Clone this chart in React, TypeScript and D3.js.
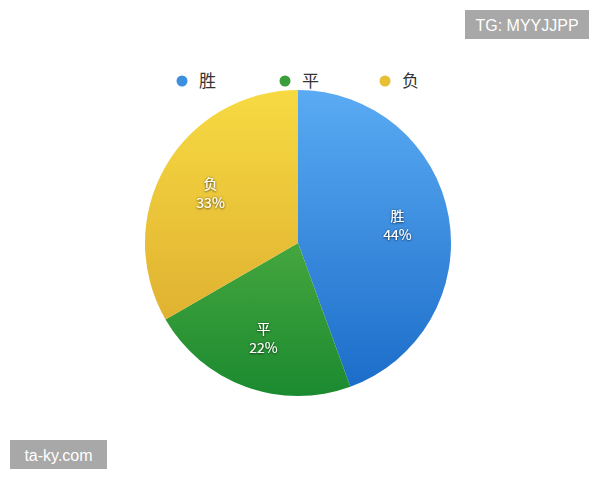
import { useEffect, useRef } from 'react'
import * as d3 from 'd3'

const categories = ['胜', '平', '负']
const values = [4, 2, 3]
const percentLabels = ['44%', '22%', '33%']

const gradTop = ['#5aabf3', '#6fc24c', '#f7da42']
const gradBottom = ['#1a6bc8', '#1b8a30', '#d8a42b']
const legendColors = ['#3d8fe0', '#3a9e3a', '#e6bf35']

export default function App() {
  const ref = useRef<SVGSVGElement>(null)

  useEffect(() => {
    const svg = d3.select(ref.current!)
    svg.selectAll('*').remove()
    const W = 600, H = 480
    const cx = 298, cy = 243, r = 153

    const defs = svg.append('defs')
    categories.forEach((_, i) => {
      const g = defs.append('linearGradient').attr('id', `g${i}`)
        .attr('gradientUnits', 'userSpaceOnUse')
        .attr('x1', 0).attr('y1', -r).attr('x2', 0).attr('y2', r)
      g.append('stop').attr('offset', '0%').attr('stop-color', gradTop[i])
      g.append('stop').attr('offset', '100%').attr('stop-color', gradBottom[i])
    })
    const f = defs.append('filter').attr('id', 'ts').attr('x', '-20%').attr('y', '-20%').attr('width', '140%').attr('height', '140%')
    f.append('feDropShadow').attr('dx', 0).attr('dy', 0.5).attr('stdDeviation', 0.8)
      .attr('flood-color', '#000').attr('flood-opacity', 0.85)

    svg.append('rect').attr('width', W).attr('height', H).attr('fill', '#fff')

    // legend
    const legX = [182, 285, 385]
    categories.forEach((c, i) => {
      svg.append('circle').attr('cx', legX[i]).attr('cy', 81).attr('r', 5.5).attr('fill', legendColors[i])
      svg.append('text').attr('x', legX[i] + 17).attr('y', 81).attr('dy', '0.35em')
        .attr('font-family', '"Noto Sans CJK SC", sans-serif').attr('font-size', 17).attr('fill', '#333').text(c)
    })

    const pie = d3.pie<number>().sort(null).value(d => d)
    const arcs = pie(values)
    const arc = d3.arc<d3.PieArcDatum<number>>().innerRadius(0).outerRadius(r)
    const labelArc = d3.arc<d3.PieArcDatum<number>>().innerRadius(r * 0.66).outerRadius(r * 0.66)

    const g = svg.append('g').attr('transform', `translate(${cx},${cy})`)
    g.selectAll('path').data(arcs).join('path')
      .attr('d', arc)
      .attr('fill', (_, i) => `url(#g${i})`)

    arcs.forEach((a, i) => {
      const [x, y] = labelArc.centroid(a)
      const lab = (txt: string, yy: number) => g.append('text').attr('text-anchor', 'middle')
        .attr('x', x).attr('y', yy)
        .attr('font-family', '"Noto Sans CJK SC", sans-serif').attr('font-size', 14)
        .attr('fill', '#fff').attr('filter', 'url(#ts)').text(txt)
      lab(categories[i], y - 4)
      lab(percentLabels[i], y + 15)
    })

    // watermarks
    svg.append('rect').attr('x', 465).attr('y', 10).attr('width', 124).attr('height', 29).attr('fill', '#a8a8a8')
    svg.append('text').attr('x', 527).attr('y', 25).attr('dy', '0.35em').attr('text-anchor', 'middle')
      .attr('font-family', '"Liberation Sans", Arial, sans-serif').attr('font-size', 16).attr('fill', '#fff').text('TG: MYYJJPP')
    svg.append('rect').attr('x', 10).attr('y', 440).attr('width', 97).attr('height', 29).attr('fill', '#a8a8a8')
    svg.append('text').attr('x', 58.5).attr('y', 455).attr('dy', '0.35em').attr('text-anchor', 'middle')
      .attr('font-family', '"Liberation Sans", Arial, sans-serif').attr('font-size', 16).attr('fill', '#fff').text('ta-ky.com')
  }, [])

  return <svg ref={ref} width={600} height={480} style={{ position: 'absolute', left: 0, top: 0 }} />
}
